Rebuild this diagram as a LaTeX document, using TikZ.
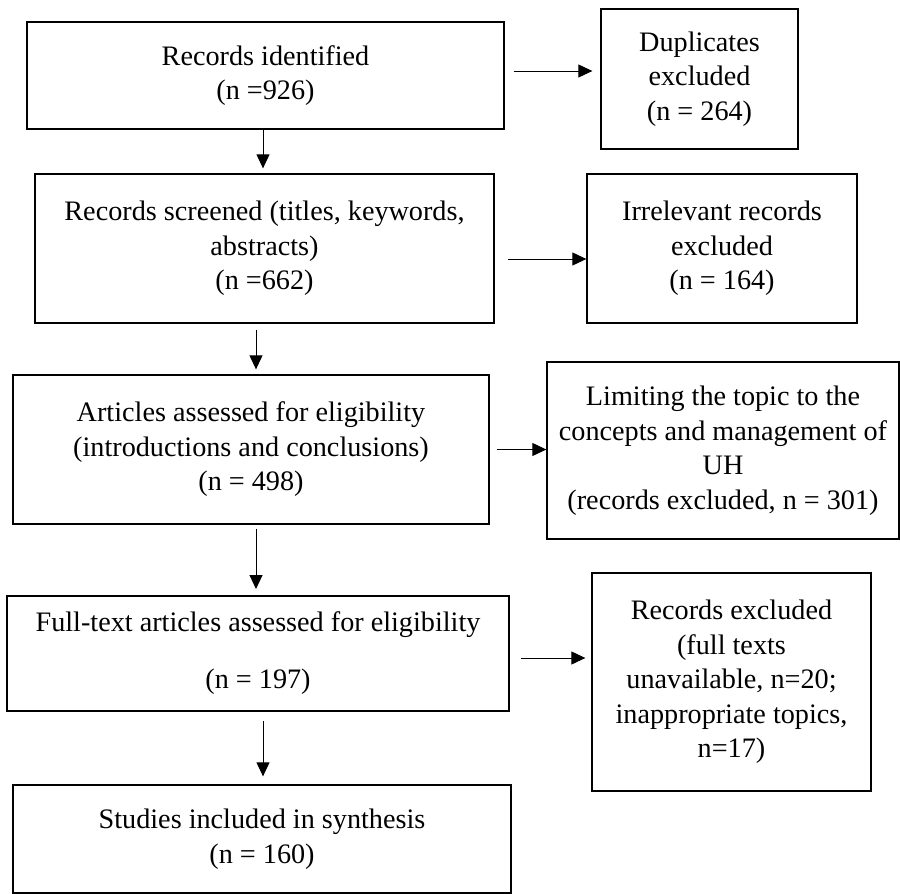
\documentclass[tikz,border=0pt]{standalone}
\usepackage{fontspec}
\setmainfont{Liberation Serif}
\usepackage{tikz}
\usetikzlibrary{arrows.meta}

\begin{document}
\begin{tikzpicture}[x=1pt, y=-1pt, boxnode/.style={rectangle, draw=black, line width=1.3pt, align=center, inner sep=0pt, font=\fontsize{28.2}{34.5}\selectfont}]
            \useasboundingbox (0,0) rectangle (900,894);
            \node[boxnode, minimum width=477pt, minimum height=107pt] (Id) at (265.5,75.5) {Records identified\\(n =926)};
            \node[boxnode, minimum width=197pt, minimum height=140pt] (Du) at (699.5,79) {Duplicates\\excluded\\(n = 264)};
            \node[boxnode, minimum width=459pt, minimum height=149pt] (Sc) at (264.5,248.5) {Records screened (titles, keywords,\\abstracts)\\(n =662)};
            \node[boxnode, minimum width=270pt, minimum height=149pt] (Ir) at (722,248.5) {Irrelevant records\\excluded\\(n = 164)};
            \node[boxnode, minimum width=476pt, minimum height=149pt] (El) at (251,449.5) {Articles assessed for eligibility\\(introductions and conclusions)\\(n = 498)};
            \node[boxnode, minimum width=352pt, minimum height=177pt] (Li) at (723,450.5) {Limiting the topic to the\\concepts and management of\\UH\\(records excluded, n = 301)};
            \node[boxnode, line width=2pt, minimum width=502pt, minimum height=115pt] (Ft) at (258,653.5) {Full-text articles assessed for eligibility\\[22.5pt](n = 197)};
            \node[boxnode, minimum width=279pt, minimum height=218pt] (Ex) at (731.5,682) {Records excluded\\(full texts\\unavailable, n=20;\\inappropriate topics,\\n=17)};
            \node[boxnode, minimum width=498pt, minimum height=108pt] (St) at (262,839) {Studies included in synthesis\\(n = 160)};

            \tikzset{arr/.style={-{Triangle[length=14pt,width=13pt]}, line width=1pt}}

            \draw[arr, shorten <=9pt, shorten >=8pt] ([yshift=4.5pt]Id.east) -- ([yshift=4.5pt]Id.east -| Du.west);
            \draw[arr, shorten <=13pt] ([yshift=-10.5pt]Sc.east) -- ([yshift=-10.5pt]Sc.east -| Ir.west);
            \draw[arr, shorten <=7pt] (El.east) -- (El.east -| Li.west);
            \draw[arr, shorten <=11pt, shorten >=6pt] ([yshift=-4.5pt]Ft.east) -- ([yshift=-4.5pt]Ft.east -| Ex.west);

            \draw[arr, shorten >=5pt] ([xshift=-2.5pt]Id.south) -- ([xshift=-2.5pt]Id.south |- Sc.north);
            \draw[arr, shorten <=6pt, shorten >=5pt] ([xshift=-8.5pt]Sc.south) -- ([xshift=-8.5pt]Sc.south |- El.north);
            \draw[arr, shorten <=4pt, shorten >=6pt] ([xshift=5pt]El.south) -- ([xshift=5pt]El.south |- Ft.north);
            \draw[arr, shorten <=9pt, shorten >=8pt] ([xshift=5pt]Ft.south) -- ([xshift=5pt]Ft.south |- St.north);

        \end{tikzpicture}
\end{document}
